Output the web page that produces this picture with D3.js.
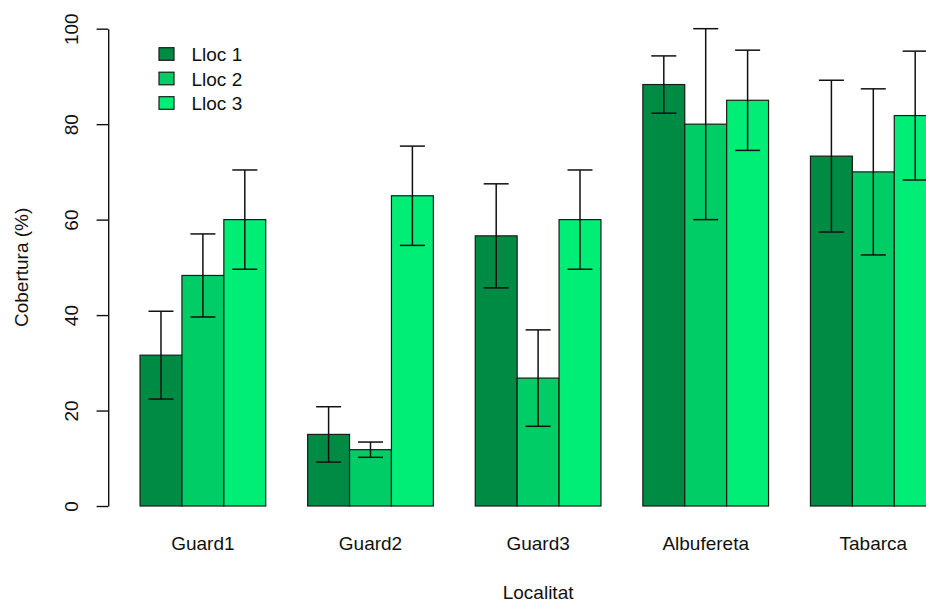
<!DOCTYPE html>
<html>
<head>
<meta charset="utf-8">
<script src="https://cdn.jsdelivr.net/npm/d3@7"></script>
<style>
  html, body { margin: 0; padding: 0; background: #fff; }
  svg { display: block; font-family: "Liberation Sans", Arial, sans-serif; }
</style>
</head>
<body>
<svg id="chart" width="926" height="602"></svg>
<script>
// Sites along the x axis
const localitats = ["Guard1", "Guard2", "Guard3", "Albufereta", "Tabarca"];
// Sampling points within each site
const llocs = ["Lloc 1", "Lloc 2", "Lloc 3"];
// Mean cover (%) per sampling point, one value per site
const lloc1 = [31.6, 15.0, 56.6, 88.3, 73.3];
const lloc2 = [48.3, 11.8, 26.8, 80.0, 70.0];
const lloc3 = [60.0, 65.0, 60.0, 85.0, 81.8];
// Error half-widths
const err1 = [9.2, 5.8, 10.9, 6.0, 15.9];
const err2 = [8.7, 1.6, 10.1, 20.0, 17.4];
const err3 = [10.4, 10.4, 10.4, 10.5, 13.5];
const yTicks = [0, 20, 40, 60, 80, 100];
const colors = ["#008B45", "#00CD66", "#00EE76"];

const means = [lloc1, lloc2, lloc3];
const errs = [err1, err2, err3];

const nG = localitats.length, nS = llocs.length;
// barplot-style layout: unit-width bars, one empty unit between groups
const totalUnits = nG * (nS + 1);             // 20
const pad = 0.04 * (totalUnits - 1);           // 4% extension of data range
const x = d3.scaleLinear()
  .domain([1 - pad, totalUnits + pad])
  .range([108.2, 968]);
const y = d3.scaleLinear()
  .domain([-4, 104])
  .range([525.1, 9.6]);

const bars = [];
localitats.forEach((loc, g) => {
  llocs.forEach((s, i) => {
    const left = g * (nS + 1) + i + 1;
    bars.push({ loc, s, i, left, v: means[i][g], e: errs[i][g] });
  });
});

const svg = d3.select("#chart");
const font = 19;

// bars
svg.append("g").selectAll("rect").data(bars).join("rect")
  .attr("x", d => x(d.left))
  .attr("y", d => y(d.v))
  .attr("width", d => x(d.left + 1) - x(d.left))
  .attr("height", d => y(0) - y(d.v))
  .attr("fill", d => colors[d.i])
  .attr("stroke", "#1a1a1a")
  .attr("stroke-width", 1.2);

// error bars
const eb = svg.append("g").attr("stroke", "#111").attr("stroke-width", 1.5).attr("fill", "none");
const capHalf = 12.5;
bars.forEach(d => {
  const cx = x(d.left + 0.5);
  eb.append("line").attr("x1", cx).attr("x2", cx).attr("y1", y(d.v - d.e)).attr("y2", y(d.v + d.e));
  eb.append("line").attr("x1", cx - capHalf).attr("x2", cx + capHalf).attr("y1", y(d.v + d.e)).attr("y2", y(d.v + d.e));
  eb.append("line").attr("x1", cx - capHalf).attr("x2", cx + capHalf).attr("y1", y(d.v - d.e)).attr("y2", y(d.v - d.e));
});

// y axis (drawn only over the labelled range)
const yAxisScale = y.copy().domain([0, 100]).range([y(0), y(100)]);
const yAxis = svg.append("g")
  .attr("transform", `translate(${x(1 - pad)},0)`)
  .call(d3.axisLeft(yAxisScale).tickValues(yTicks).tickSize(11.6).tickSizeOuter(0).tickFormat(d3.format("d")));
yAxis.select(".domain").attr("stroke", "#111").attr("stroke-width", 1.4);
yAxis.selectAll(".tick line").attr("stroke", "#111").attr("stroke-width", 1.4);
yAxis.selectAll(".tick text")
  .attr("font-size", font)
  .attr("fill", "#111")
  .attr("font-family", '"Liberation Sans", Arial, sans-serif')
  .attr("x", 0).attr("dy", null)
  .attr("text-anchor", "middle")
  .attr("transform", `translate(${71 - x(1 - pad)},0) rotate(-90) translate(0,6.8)`);

// category labels under each group
svg.append("g").selectAll("text").data(localitats).join("text")
  .attr("x", (d, g) => x(g * (nS + 1) + 1 + nS / 2))
  .attr("y", 550)
  .attr("text-anchor", "middle")
  .attr("font-size", font)
  .attr("fill", "#111")
  .text(d => d);

// axis titles
svg.append("text")
  .attr("x", (x.range()[0] + x.range()[1]) / 2)
  .attr("y", 598.5)
  .attr("text-anchor", "middle")
  .attr("font-size", font)
  .attr("fill", "#111")
  .text("Localitat");
svg.append("text")
  .attr("transform", `translate(27.5,${(y.range()[0] + y.range()[1]) / 2}) rotate(-90)`)
  .attr("text-anchor", "middle")
  .attr("font-size", font)
  .attr("fill", "#111")
  .text("Cobertura (%)");

// legend
const lg = svg.append("g");
llocs.forEach((s, i) => {
  const cy = 54 + i * 24.5;
  lg.append("rect")
    .attr("x", 159).attr("y", cy - 6.3)
    .attr("width", 15).attr("height", 12.6)
    .attr("fill", colors[i]).attr("stroke", "#1a1a1a").attr("stroke-width", 1.2);
  lg.append("text")
    .attr("x", 191.5).attr("y", cy + 7)
    .attr("font-size", font)
    .attr("fill", "#111")
    .text(s);
});
</script>
</body>
</html>
